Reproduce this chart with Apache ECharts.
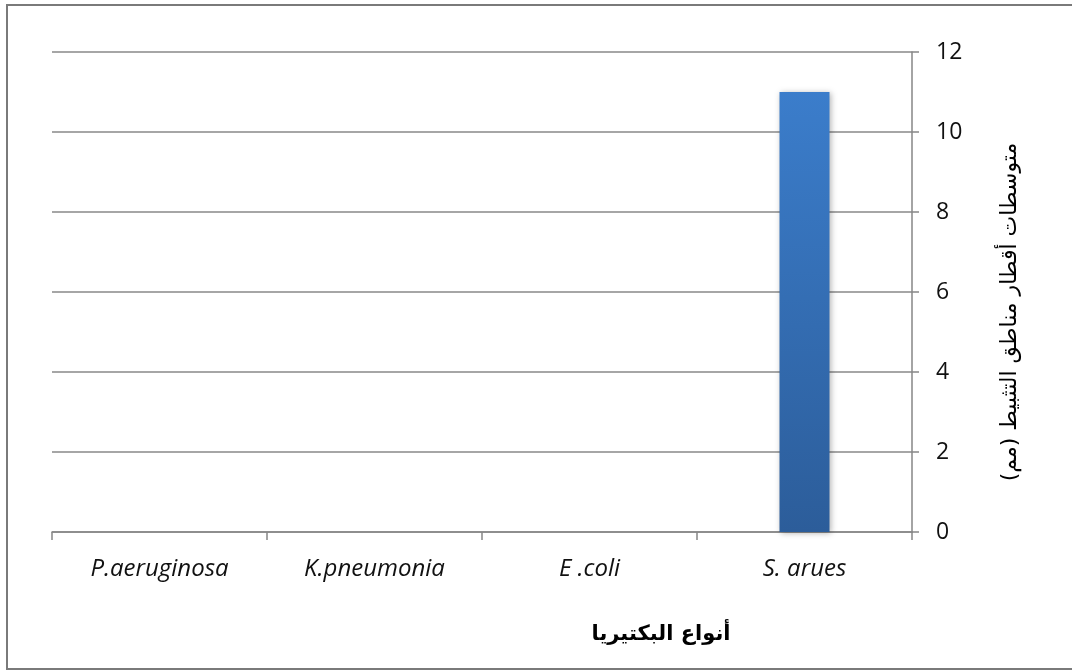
<!DOCTYPE html>
<html>
<head>
<meta charset="utf-8">
<style>
  html, body { margin: 0; padding: 0; background: #ffffff; }
  #chart { width: 1072px; height: 671px; }
</style>
<script src="https://cdn.jsdelivr.net/npm/echarts@6/dist/echarts.min.js"></script>
</head>
<body>
<div id="chart"></div>
<script>
// Bacterial species and mean inhibition-zone diameters (mm)
const categories = ['P.aeruginosa', 'K.pneumonia', 'E .coli', 'S. arues'];
const zoneValues = [0, 0, 0, 11];
const yTicks = { min: 0, max: 12, interval: 2 };
const xTitle = 'أنواع البكتيريا';
const yTitle = 'متوسطات أقطار مناطق التثبيط (مم)';

const chart = echarts.init(document.getElementById('chart'));
chart.setOption({
  animation: false,
  grid: { left: 52, right: 160, top: 52, bottom: 139 },
  xAxis: {
    type: 'category',
    data: categories,
    axisLine: { lineStyle: { color: '#868686', width: 1.5 } },
    axisTick: { show: true, length: 8, lineStyle: { color: '#868686', width: 1.5 } },
    axisLabel: {
      fontFamily: 'Open Sans',
      fontStyle: 'italic',
      fontSize: 24,
      color: '#111',
      margin: 25
    }
  },
  yAxis: {
    type: 'value',
    position: 'right',
    min: yTicks.min,
    max: yTicks.max,
    interval: yTicks.interval,
    axisLine: { show: true, lineStyle: { color: '#868686', width: 1.5 } },
    axisTick: { show: true, length: 7, lineStyle: { color: '#868686', width: 1.5 } },
    splitLine: { lineStyle: { color: '#888888', width: 1.5 } },
    axisLabel: {
      fontFamily: 'Open Sans',
      fontSize: 23,
      color: '#111',
      margin: 24
    }
  },
  series: [{
    type: 'bar',
    data: zoneValues,
    barWidth: 50,
    itemStyle: {
      color: new echarts.graphic.LinearGradient(0, 0, 0, 1, [
        { offset: 0, color: '#3b7dcb' },
        { offset: 1, color: '#2c5d9a' }
      ]),
      shadowBlur: 6,
      shadowColor: 'rgba(0,0,0,0.3)',
      shadowOffsetX: 1,
      shadowOffsetY: 1
    }
  }],
  graphic: [
    {
      type: 'rect',
      shape: { x: 7, y: 5, width: 1075, height: 664 },
      style: { fill: 'none', stroke: '#7a7a7a', lineWidth: 2 },
      silent: true
    },
    {
      type: 'text',
      x: 661,
      y: 635,
      style: {
        text: xTitle,
        fontFamily: 'DejaVu Sans',
        fontWeight: 'bold',
        fontSize: 21,
        fill: '#000',
        align: 'center',
        verticalAlign: 'middle'
      }
    },
    {
      type: 'text',
      x: 1010,
      y: 312,
      rotation: Math.PI / 2,
      style: {
        text: yTitle,
        fontFamily: 'DejaVu Sans',
        fontSize: 22,
        fill: '#000',
        align: 'center',
        verticalAlign: 'middle'
      }
    }
  ]
});
</script>
</body>
</html>
